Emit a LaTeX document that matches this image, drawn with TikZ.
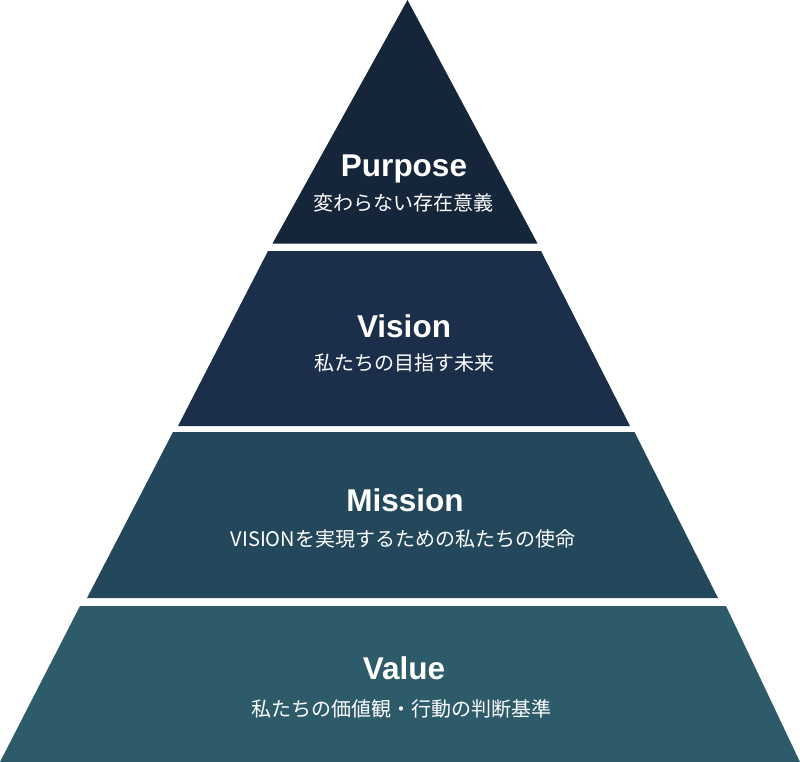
\documentclass[tikz,border=0pt]{standalone}
\usepackage{fontspec}
\setmainfont{Liberation Sans}
\newfontfamily\jpfont{Noto Sans CJK JP}
\usepackage{tikz}
\usetikzlibrary{positioning}
\definecolor{purposecol}{HTML}{15253A}
\definecolor{visioncol}{HTML}{1B2F4A}
\definecolor{missioncol}{HTML}{23475B}
\definecolor{valuecol}{HTML}{2D5B6A}
\tikzset{
    x=1pt, y=-1pt, % one unit is one pixel, y runs down
    layer/.style={fill=#1, draw=none}, % the bands of the pyramid
    title/.style={anchor=base, text=white, font=\fontsize{31.5}{36}\selectfont\bfseries}, % big heading
    subtitle/.style={anchor=base, text=white, font=\fontsize{20}{24}\selectfont\jpfont}, % japanese line
}
\begin{document}
\begin{tikzpicture}
    \useasboundingbox (0,0) rectangle (800,762);

    % bands, top to bottom
    \fill[layer=purposecol] (407.5,0) -- (537.5,243.5) -- (272.5,243.5) -- cycle;
    \fill[layer=visioncol] (268,251) -- (541,251) -- (630,426) -- (178,426) -- cycle;
    \fill[layer=missioncol] (173,432) -- (634.5,432) -- (718,598) -- (87,598) -- cycle;
    \fill[layer=valuecol] (80,606) -- (726,606) -- (800,762) -- (0,762) -- cycle;

    % labels
    \node[title] (purpose) at (404,177) {Purpose};
    \node[subtitle] (purposesub) at (403,211) {変わらない存在意義};
    \node[title] (vision) at (404,337) {Vision};
    \node[subtitle] (visionsub) at (404,370) {私たちの目指す未来};
    \node[title] (mission) at (405,511) {Mission};
    \node[subtitle] (missionsub) at (403,546) {VISIONを実現するための私たちの使命};
    \node[title] (value) at (404,679) {Value};
    \node[subtitle] (valuesub) at (401,716) {私たちの価値観・行動の判断基準};
\end{tikzpicture}
\end{document}
